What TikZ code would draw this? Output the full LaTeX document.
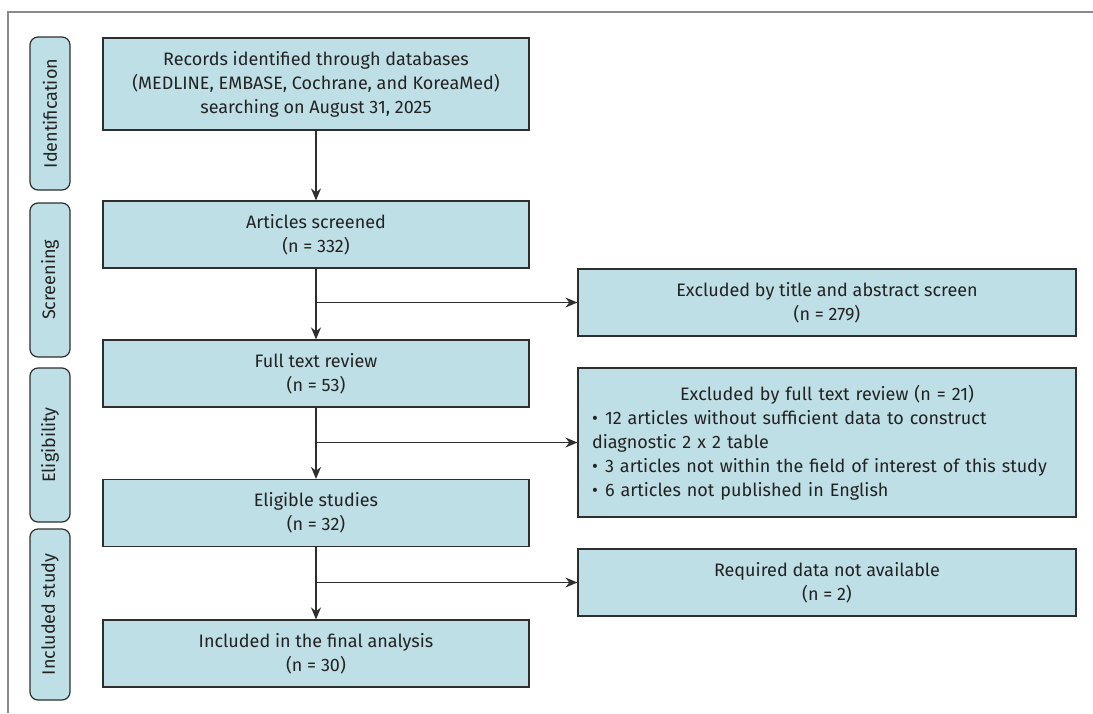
\documentclass[tikz,border=0pt]{standalone}
\usepackage{fontspec}
\setmainfont{Fira Sans}
\usetikzlibrary{arrows.meta}
\definecolor{boxfill}{HTML}{BFDFE6}
\definecolor{boxline}{HTML}{2E2E2E}
\definecolor{textc}{HTML}{222222}
\definecolor{framec}{HTML}{8A8A8A}
\newcommand{\bulitem}[1]{\hangindent=13pt\hangafter=1\noindent\makebox[13pt][l]{\textbullet}#1\par}
\begin{document}
\begin{tikzpicture}[x=1pt,y=-1pt,
  box/.style={draw=boxline, fill=boxfill, line width=1.2pt, align=center, inner sep=0pt,
    font=\fontsize{18}{24}\selectfont, text=textc},
  mainbox/.style={box, minimum width=426pt, minimum height=67pt},
  rbox/.style={box, minimum width=498pt, minimum height=67pt},
  side/.style={draw=boxline, fill=boxfill, line width=1.2pt, rounded corners=8pt, rotate=90,
    minimum height=40pt, inner sep=0pt, font=\fontsize{18}{24}\selectfont, text=textc},
  arr/.style={draw=boxline, line width=1.2pt, -{Stealth[length=12pt, width=10pt]}}
]
\useasboundingbox (0,0) rectangle (1093,713);
% frame
\coordinate (ftr) at (1093,12);
\coordinate (ftl) at (8,12);
\coordinate (fbl) at (8,713);
\draw[framec, line width=2pt] (ftr) -- (ftl) -- (fbl);

% side labels
\node[side, minimum width=153pt] (sid) at (50,113.5) {Identification};
\node[side, minimum width=154pt] (sscr) at (50,280) {Screening};
\node[side, minimum width=154pt] (selig) at (50,445) {Eligibility};
\node[side, minimum width=171pt] (sinc) at (50,614.5) {Included study};

% main boxes
\node[mainbox, minimum height=92pt] (b1) at (316,84) {Records identified through databases\\(MEDLINE, EMBASE, Cochrane, and KoreaMed)\\searching on August 31, 2025};
\node[mainbox] (b2) at (316,234.5) {Articles screened\\(n = 332)};
\node[mainbox] (b3) at (316,373.5) {Full text review\\(n = 53)};
\node[mainbox] (b4) at (316,513) {Eligible studies\\(n = 32)};
\node[mainbox] (b5) at (316,653.5) {Included in the final analysis\\(n = 30)};

% right boxes
\node[rbox] (r1) at (827,302.5) {Excluded by title and abstract screen\\(n = 279)};
\node[rbox, minimum height=149pt, text width=486pt, align=left] (r2) at (827,442.5) {%
  {\centering Excluded by full text review (n = 21)\par}
  \raggedright\leftskip=8pt
  \bulitem{12 articles without sufficient data to construct\\diagnostic 2 x 2 table}
  \bulitem{3 articles not within the field of interest of this study}
  \bulitem{6 articles not published in English}};
\node[rbox] (r3) at (827,582.5) {Required data not available\\(n = 2)};

% connectors
\draw[arr] (b1.south) -- (b2.north);
\draw[arr] (b2.south) -- (b3.north);
\draw[arr] (b3.south) -- (b4.north);
\draw[arr] (b4.south) -- (b5.north);
\draw[arr] (b2.south |- r1.west) -- (r1.west);
\draw[arr] (b3.south |- r2.west) -- (r2.west);
\draw[arr] (b4.south |- r3.west) -- (r3.west);
\end{tikzpicture}
\end{document}
